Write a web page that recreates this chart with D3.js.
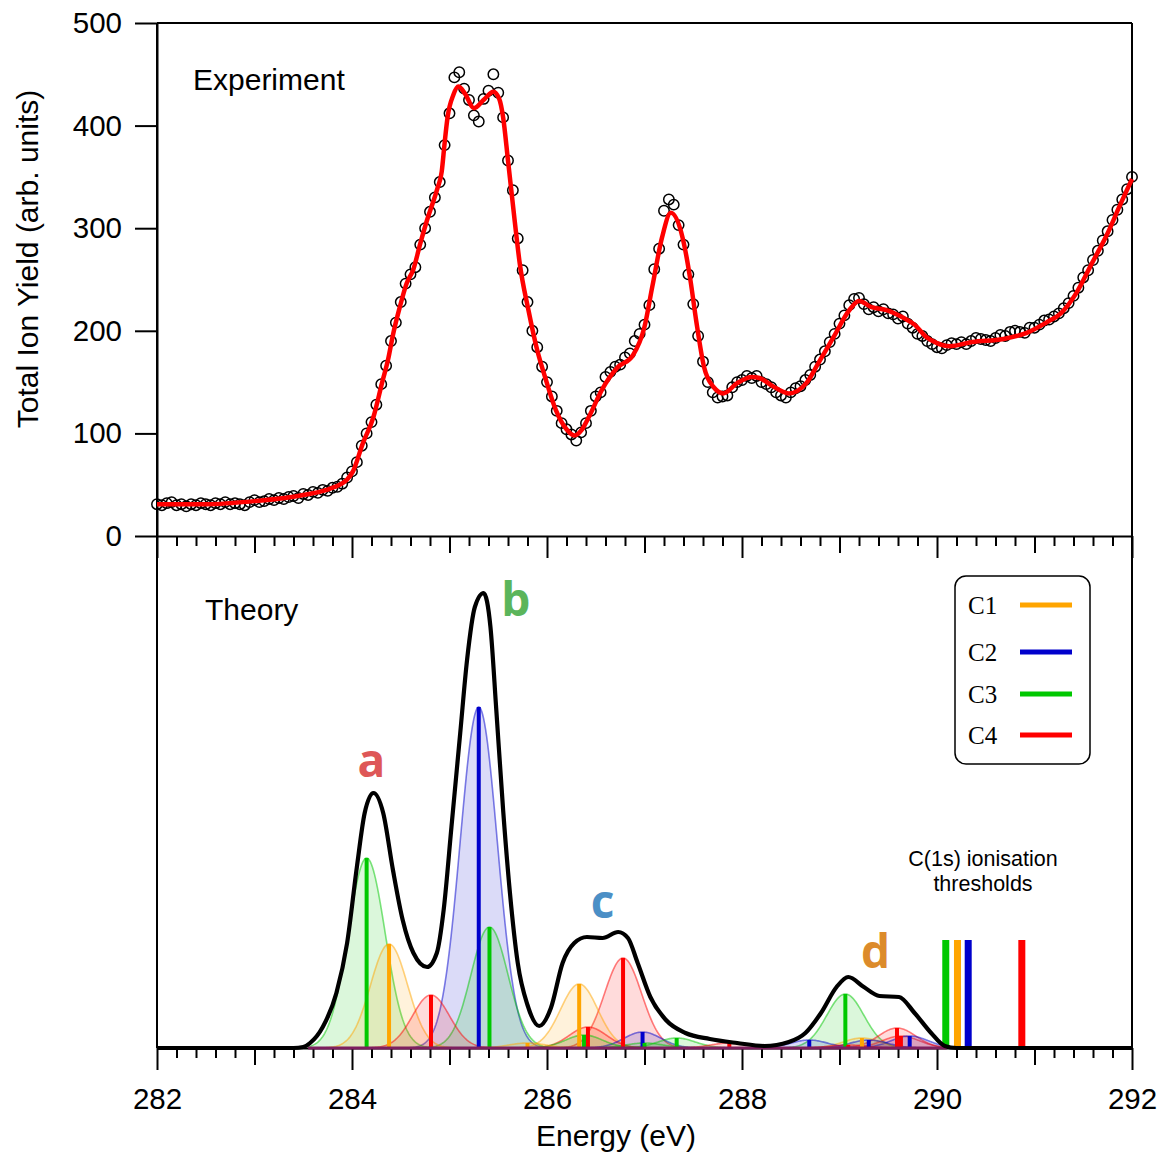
<!DOCTYPE html>
<html>
<head>
<meta charset="utf-8">
<script src="https://cdn.jsdelivr.net/npm/d3@7"></script>
<style>
body { margin: 0; background: #fff; }
svg text { font-family: "Liberation Sans", Arial, sans-serif; }
</style>
</head>
<body>
<script>
// ---- experiment: total ion yield, one point every 0.05 eV from 282 eV
let expStart = 282;
let expStep = 0.05;
let expYield = [
    31, 30, 32, 33, 30, 31, 29, 31, 30, 32, 31, 30, 32, 31, 33, 31, 32, 31, 30, 33,
    35, 33, 34, 36, 35, 37, 36, 38, 39, 37, 41, 40, 43, 42, 45, 44, 47, 48, 51, 57,
    63, 72, 88, 100, 111, 128, 148, 166, 190, 208, 228, 246, 255, 262, 284, 300, 316, 330, 345, 381,
    412, 447, 452, 436, 425, 410, 404, 426, 434, 450, 432, 408, 366, 337, 290, 259, 228, 200, 184, 165,
    150, 136, 122, 110, 104, 99, 93, 101, 110, 122, 136, 140, 155, 160, 165, 167, 174, 178, 190, 197,
    206, 225, 260, 280, 317, 328, 323, 303, 284, 255, 226, 195, 170, 150, 140, 135, 136, 137, 145, 150,
    152, 156, 154, 156, 150, 148, 145, 140, 137, 135, 140, 144, 146, 152, 157, 165, 172, 180, 189, 197,
    207, 215, 225, 231, 232, 226, 221, 223, 219, 221, 217, 216, 212, 214, 207, 203, 197, 195, 190, 187,
    184, 183, 186, 188, 187, 189, 187, 190, 193, 192, 191, 190, 193, 196, 195, 199, 200, 199, 198, 203,
    203, 206, 210, 211, 214, 217, 222, 227, 234, 242, 252, 259, 269, 278, 288, 297, 308, 318, 328, 338,
    350
];

// red fit through the experiment
let fitEnergy = [282.0, 282.5, 283.0, 283.5, 283.8, 283.95, 284.01, 284.11, 284.22, 284.31, 284.37, 284.42,
    284.49, 284.56, 284.63, 284.70, 284.77, 284.83, 284.88, 284.92, 284.95, 284.98, 285.04, 285.09, 285.16,
    285.25, 285.36, 285.45, 285.51, 285.55, 285.60, 285.67, 285.72, 285.81, 285.90, 285.98, 286.09, 286.20,
    286.28, 286.36, 286.44, 286.56, 286.72, 286.88, 287.00, 287.08, 287.18, 287.27, 287.39, 287.47, 287.53,
    287.61, 287.71, 287.81, 287.95, 288.10, 288.18, 288.30, 288.48, 288.66, 288.78, 288.94, 289.10, 289.20,
    289.33, 289.49, 289.65, 289.77, 289.89, 290.00, 290.13, 290.36, 290.68, 290.92, 291.12, 291.27, 291.43,
    291.59, 291.75, 291.87, 292.0];
let fitYield = [31, 31, 34, 40, 47, 55, 63, 90, 116, 150, 172, 196,
    223, 246, 260, 285, 308, 325, 340, 355, 383, 408, 430, 438, 431,
    417, 426, 433, 426, 408, 366, 306, 266, 220, 181, 155, 123, 104,
    98, 104, 118, 142, 164, 176, 204, 243, 291, 315, 291, 250, 210,
    165, 145, 139, 149, 155, 154, 147, 139, 149, 168, 194, 220, 229,
    223, 220, 213, 206, 194, 188, 185, 189, 192, 198, 208, 217, 237,
    266, 295, 321, 348];

// ---- theory: stick transitions (energy, height, carbon site)
let stickEnergy = [284.15, 284.38, 284.81, 285.30, 285.41, 285.80, 286.33, 286.38, 286.42, 286.78, 286.98,
    287.00, 287.33, 287.87, 288.69, 289.06, 289.09, 289.23, 289.30, 289.59, 289.63, 289.72];
let stickHeight = [190, 104, 53, 341, 121, 5, 64, 13, 21, 90, 16,
    5, 10, 5, 8, 54, 3, 10, 8, 20, 12, 12];
let stickSite = ['C3', 'C1', 'C4', 'C2', 'C3', 'C1', 'C1', 'C3', 'C4', 'C4', 'C2',
    'C3', 'C3', 'C4', 'C2', 'C3', 'C4', 'C1', 'C2', 'C4', 'C4', 'C2'];
let broadening = 0.19; // gaussian sigma in eV

// total theoretical spectrum (black)
let totalEnergy = [282.0, 283.4, 283.5, 283.57, 283.70, 283.84, 283.95, 284.05, 284.13, 284.22, 284.32, 284.42,
    284.52, 284.63, 284.77, 284.87, 284.94, 285.02, 285.11, 285.18, 285.26, 285.35, 285.42, 285.48, 285.55,
    285.62, 285.70, 285.80, 285.92, 286.04, 286.16, 286.28, 286.41, 286.57, 286.73, 286.83, 286.93, 287.06,
    287.22, 287.42, 287.67, 287.95, 288.23, 288.48, 288.65, 288.81, 288.97, 289.09, 289.25, 289.41, 289.61,
    289.77, 289.94, 290.08, 290.2, 292.0];
let totalHeight = [0, 0, 1, 5, 21, 55, 105, 181, 235, 255, 235, 178,
    128, 95, 81, 95, 138, 221, 315, 388, 441, 455, 421, 338, 238,
    155, 85, 43, 22, 40, 85, 105, 111, 110, 116, 110, 85, 51,
    28, 15, 9, 5, 2, 6, 15, 35, 61, 71, 61, 52, 51,
    35, 15, 2, 0, 0];

// C(1s) ionisation thresholds
let thresholdEnergy = [290.09, 290.21, 290.32, 290.87];
let thresholdSite = ['C3', 'C1', 'C2', 'C4'];
let thresholdHeight = 108;

let sites = ['C1', 'C2', 'C3', 'C4'];
let siteColors = {C1: '#ffa500', C2: '#0000cc', C3: '#00c800', C4: '#ff0000'};

let peakLabels = ['a', 'b', 'c', 'd'];
let peakLabelEnergy = [284.2, 285.68, 286.57, 289.37];
let peakLabelHeight = [271, 432, 130, 80];
let peakLabelColors = ['#de5757', '#5bb55b', '#4b8fc6', '#dc8b2b'];

let yTicks = [0, 100, 200, 300, 400, 500];

//set chart constants
let totalWidth = 1164;
let totalHeightPx = 1157;
let plotLeft = 157, plotRight = 1132, plotTop = 23, plotMiddle = 536, plotBottom = 1048;

let svg = d3.select('body').append('svg')
    .attr('width', totalWidth)
    .attr('height', totalHeightPx);

let xScale = d3.scaleLinear().domain([282, 292]).range([plotLeft, plotRight]);
let yExp = d3.scaleLinear().domain([0, 500]).range([plotMiddle, plotTop]);
let yTheory = d3.scaleLinear().domain([0, 512]).range([plotBottom, plotMiddle]);

// ---- frame
svg.append('line').attr('x1', plotLeft).attr('x2', plotRight).attr('y1', plotTop).attr('y2', plotTop)
    .attr('stroke', '#000').attr('stroke-width', 2);
svg.append('line').attr('x1', plotRight).attr('x2', plotRight).attr('y1', plotTop).attr('y2', plotBottom)
    .attr('stroke', '#000').attr('stroke-width', 2);
svg.append('line').attr('x1', plotLeft).attr('x2', plotLeft).attr('y1', plotTop).attr('y2', plotBottom)
    .attr('stroke', '#000').attr('stroke-width', 2);

// left axis (experiment only)
let yAxis = svg.append('g')
    .attr('transform', `translate(${plotLeft},0)`)
    .call(d3.axisLeft(yExp).tickValues(yTicks).tickSize(22).tickPadding(13).tickSizeOuter(0));
yAxis.select('.domain').attr('stroke-width', 2);
yAxis.selectAll('.tick line').attr('stroke-width', 2);
yAxis.selectAll('.tick text').attr('font-size', 29.5).attr('font-family', '"Liberation Sans", Arial, sans-serif');

// energy ticks: 0.2 eV minor, 1 eV medium, 2 eV major
let energyTicks = d3.range(0, 51).map(i => 282 + i * 0.2);
function tickLen(d) {
    let k = Math.round((d - 282) / 0.2);
    if (k % 10 === 0) return 22;
    if (k % 5 === 0) return 17;
    return 10;
}
function drawEnergyAxis(y, withLabels) {
    let g = svg.append('g')
        .attr('transform', `translate(0,${y})`)
        .call(d3.axisBottom(xScale).tickValues(energyTicks).tickSize(10).tickSizeOuter(0)
            .tickFormat(d => {
                let k = Math.round((d - 282) / 0.2);
                return (withLabels && k % 10 === 0) ? d3.format('d')(Math.round(d)) : '';
            }));
    g.select('.domain').attr('stroke-width', 2);
    g.selectAll('.tick line').attr('stroke-width', 2).attr('y2', d => tickLen(d));
    g.selectAll('.tick text').attr('y', 40).attr('font-size', 29.5)
        .attr('font-family', '"Liberation Sans", Arial, sans-serif');
    return g;
}
drawEnergyAxis(plotMiddle, false);

// ---- theory panel
let gaussGrid = d3.range(0, 661).map(i => 283.55 + i * 0.01);
let area = d3.area().x(d => xScale(d[0])).y0(yTheory(0)).y1(d => yTheory(d[1]));
let line = d3.line().x(d => xScale(d[0])).y(d => yTheory(d[1]));

let order = d3.range(stickEnergy.length).sort((a, b) => stickHeight[b] - stickHeight[a]);
order.forEach(i => {
    let e0 = stickEnergy[i], h0 = stickHeight[i];
    let pts = gaussGrid.filter(e => Math.abs(e - e0) < 5 * broadening)
        .map(e => [e, h0 * Math.exp(-(e - e0) * (e - e0) / (2 * broadening * broadening))]);
    let col = siteColors[stickSite[i]];
    svg.append('path').datum(pts).attr('d', area)
        .attr('fill', col).attr('fill-opacity', 0.14);
    svg.append('path').datum(pts).attr('d', line)
        .attr('fill', 'none').attr('stroke', col).attr('stroke-opacity', 0.5).attr('stroke-width', 1.6);
});

// sticks
svg.append('g').selectAll('line')
    .data(d3.range(stickEnergy.length))
    .enter()
    .append('line')
    .attr('x1', i => xScale(stickEnergy[i]))
    .attr('x2', i => xScale(stickEnergy[i]))
    .attr('y1', yTheory(0))
    .attr('y2', i => yTheory(stickHeight[i]))
    .attr('stroke', i => siteColors[stickSite[i]])
    .attr('stroke-width', 4);

// thresholds
svg.append('g').selectAll('rect')
    .data(d3.range(thresholdEnergy.length))
    .enter()
    .append('rect')
    .attr('x', i => xScale(thresholdEnergy[i]) - 3.5)
    .attr('width', 7)
    .attr('y', yTheory(thresholdHeight))
    .attr('height', yTheory(0) - yTheory(thresholdHeight))
    .attr('fill', i => siteColors[thresholdSite[i]]);

drawEnergyAxis(plotBottom, true);

// coloured baseline under the broadened curves
svg.append('line')
    .attr('x1', xScale(283.55)).attr('x2', xScale(290.1))
    .attr('y1', yTheory(0)).attr('y2', yTheory(0))
    .attr('stroke', '#7d1f5e').attr('stroke-width', 3);

// total spectrum
svg.append('path')
    .datum(totalEnergy.map((e, i) => [e, totalHeight[i]]))
    .attr('d', d3.line().x(d => xScale(d[0])).y(d => yTheory(d[1])).curve(d3.curveMonotoneX))
    .attr('fill', 'none')
    .attr('stroke', '#000')
    .attr('stroke-width', 4.2)
    .attr('stroke-linejoin', 'round');

// peak letters
svg.append('g').selectAll('text')
    .data(peakLabels)
    .enter()
    .append('text')
    .attr('x', (d, i) => xScale(peakLabelEnergy[i]))
    .attr('y', (d, i) => yTheory(peakLabelHeight[i]))
    .attr('text-anchor', 'middle')
    .style('font-family', '"Open Sans", "Noto Sans", sans-serif')
    .style('font-weight', 'bold')
    .style('font-size', '46px')
    .attr('fill', (d, i) => peakLabelColors[i])
    .text(d => d);

// ---- experiment markers and fit
svg.append('g').selectAll('circle')
    .data(expYield)
    .enter()
    .append('circle')
    .attr('cx', (d, i) => xScale(expStart + i * expStep))
    .attr('cy', d => yExp(d))
    .attr('r', 5.2)
    .attr('fill', 'none')
    .attr('stroke', '#000')
    .attr('stroke-width', 1.5);

svg.append('path')
    .datum(fitEnergy.map((e, i) => [e, fitYield[i]]))
    .attr('d', d3.line().x(d => xScale(d[0])).y(d => yExp(d[1])).curve(d3.curveMonotoneX))
    .attr('fill', 'none')
    .attr('stroke', '#ff0000')
    .attr('stroke-width', 4.5)
    .attr('stroke-linejoin', 'round');

// ---- legend
let legend = svg.append('g');
legend.append('rect')
    .attr('x', 955).attr('y', 576).attr('width', 135).attr('height', 188)
    .attr('rx', 11).attr('ry', 11)
    .attr('fill', '#fff').attr('stroke', '#000').attr('stroke-width', 1.5);
let legendY = [605, 652, 694, 735];
sites.forEach((s, i) => {
    legend.append('text')
        .attr('x', 968).attr('y', legendY[i] + 9)
        .style('font-family', '"Liberation Serif", "DejaVu Serif", serif')
        .style('font-size', '25px')
        .text(s);
    legend.append('line')
        .attr('x1', 1020).attr('x2', 1072)
        .attr('y1', legendY[i]).attr('y2', legendY[i])
        .attr('stroke', siteColors[s]).attr('stroke-width', 5);
});

// ---- texts
svg.append('text').attr('x', 193).attr('y', 90).attr('font-size', 30).text('Experiment');
svg.append('text').attr('x', 205).attr('y', 620).attr('font-size', 30).text('Theory');
svg.append('text').attr('x', 983).attr('y', 866).attr('font-size', 21.5)
    .attr('text-anchor', 'middle').text('C(1s) ionisation');
svg.append('text').attr('x', 983).attr('y', 891).attr('font-size', 21.5)
    .attr('text-anchor', 'middle').text('thresholds');
svg.append('text').attr('x', 616).attr('y', 1146).attr('font-size', 30)
    .attr('text-anchor', 'middle').text('Energy (eV)');
svg.append('text')
    .attr('transform', 'translate(38,259) rotate(-90)')
    .attr('font-size', 30)
    .attr('text-anchor', 'middle')
    .text('Total Ion Yield (arb. units)');
</script>
</body>
</html>
